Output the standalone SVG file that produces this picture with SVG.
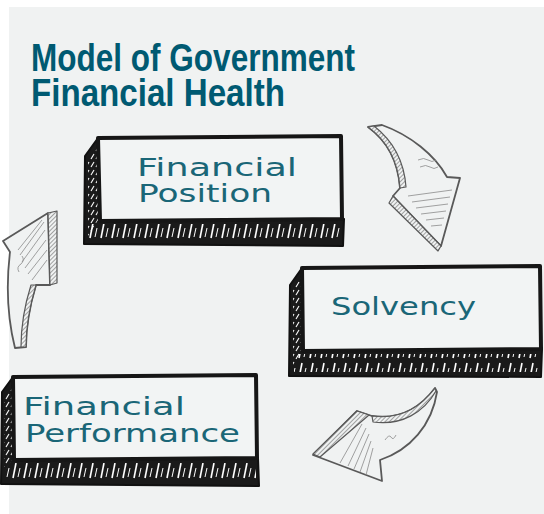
<svg xmlns="http://www.w3.org/2000/svg" width="544" height="514" viewBox="0 0 544 514">
<defs>
<pattern id="sideHatch" width="5" height="8" patternUnits="userSpaceOnUse">
<line x1="1" y1="7" x2="4" y2="2" stroke="#fff" stroke-width="1.1"/>
</pattern>
<pattern id="bottomHatch" width="11" height="20" patternUnits="userSpaceOnUse">
<line x1="2" y1="18" x2="5" y2="3" stroke="#fff" stroke-width="1.6"/>
<line x1="7" y1="17" x2="9" y2="8" stroke="#fff" stroke-width="1"/>
</pattern>
<pattern id="grayHatch" width="3" height="3" patternUnits="userSpaceOnUse" patternTransform="rotate(45)">
<rect width="3" height="3" fill="#f0f2f2"/>
<line x1="0" y1="0" x2="0" y2="3" stroke="#6a6a6a" stroke-width="1.2"/>
</pattern>
</defs>
<style>
.title{font-family:"Liberation Sans",Arial,sans-serif;font-weight:bold;font-size:38px;fill:#005a72}
.label{font-family:"DejaVu Sans","Noto Sans",sans-serif;font-size:25px;fill:#1a6677}
.dark{fill:#1a1a1a;stroke:#111;stroke-width:2;stroke-linejoin:round}
.face{fill:#f2f4f4;stroke:#161616;stroke-width:4;stroke-linejoin:round}
.side{fill:url(#sideHatch)}
.bot{fill:url(#bottomHatch)}
.arr{fill:#f0f2f2;stroke:#595959;stroke-width:1.8;stroke-linejoin:round}
.strip{fill:url(#grayHatch);stroke:#595959;stroke-width:1.2;stroke-linejoin:round}
.fine{fill:none;stroke:#8a8a8a;stroke-width:0.8}
</style>
<rect x="9" y="7" width="535" height="507" fill="#f0f2f2"/>
<g id="title">
<text class="title" x="31" y="71" textLength="324" lengthAdjust="spacingAndGlyphs">Model of Government</text>
<text class="title" x="31" y="106" textLength="254" lengthAdjust="spacingAndGlyphs">Financial Health</text>
</g>
<g id="connectors">
<g id="arrow-position-solvency">
<path class="arr" d="M368,127 L382,125 C410,135 435,155 447,177 L460,178 L441,246 L393,196 L400,188 C398,160 386,140 368,127 Z"/>
<path class="strip" d="M368,127 C386,140 398,160 400,188 L406,187 C404,160 392,140 374,126 Z"/>
<polygon class="strip" points="393,196 441,246 438,251 389,203"/>
<path class="fine" d="M408,196 L452,190 M412,202 L450,197 M416,208 L448,204 M421,214 L446,211 M426,220 L444,218 M431,226 L442,225 M418,160 q6,-3 10,0 q4,3 8,0 M420,167 q6,-3 10,0 q4,3 8,0"/>
</g>
<g id="arrow-solvency-performance">
<path class="arr" d="M435,388 C420,408 400,420 372,416 L357,411 L313,455 L382,481 L380,460 C410,450 432,425 437,392 Z"/>
<path class="strip" d="M435,388 C420,408 400,420 372,416 L373,422 C402,426 424,412 436,391 Z"/>
<polygon class="strip" points="357,411 369,415 320,457 313,454"/>
<path class="fine" d="M366,428 L348,466 M369,434 L354,469 M371,441 L360,472 M373,448 L366,475 M362,424 L340,463 M385,440 q4,-6 6,-3 q2,4 5,-2"/>
</g>
<g id="arrow-performance-position">
<path class="arr" d="M3,241 L48,213 L50,285 L36,285 C30,305 26,325 26,347 L15,348 C8,320 6,285 10,252 Z"/>
<path class="strip" d="M36,285 C30,305 26,325 26,347 L21,347 C21,322 25,304 31,285 Z"/>
<polygon class="strip" points="48,213 57,211 57,283 50,285"/>
<path class="fine" d="M20,255 L44,222 M22,262 L45,230 M25,268 L46,240 M28,274 L47,250 M32,280 L47,260 M18,250 L42,220 M19,272 q-3,-5 2,-8 q4,-4 1,-8"/>
</g>
</g>
<g id="node-financial-position">
<polygon class="dark" points="98,138 85,156 84,244 343,246 344,219"/>
<polygon class="side" points="88,160 97,148 98,220 88,236"/>
<rect class="bot" x="89" y="224" width="251" height="17"/>
<polygon class="face" points="98,138 341,136 342,219 100,221"/>
<text class="label" x="137" y="176" textLength="160" lengthAdjust="spacingAndGlyphs">Financial</text>
<text class="label" x="138" y="202" textLength="134" lengthAdjust="spacingAndGlyphs">Position</text>
</g>
<g id="node-solvency">
<polygon class="dark" points="302,268 290,285 289,376 541,377 542,349"/>
<polygon class="side" points="293,289 301,278 302,350 293,366"/>
<rect class="bot" x="294" y="354" width="245" height="18"/>
<polygon class="face" points="302,268 540,266 541,349 303,351"/>
<text class="label" x="331" y="315" textLength="145" lengthAdjust="spacingAndGlyphs">Solvency</text>
</g>
<g id="node-financial-performance">
<polygon class="dark" points="13,377 2,392 1,484 259,486 258,458"/>
<polygon class="side" points="4,396 12,386 13,458 4,472"/>
<rect class="bot" x="6" y="463" width="250" height="18"/>
<polygon class="face" points="13,377 256,375 257,458 14,460"/>
<text class="label" x="23" y="415" textLength="162" lengthAdjust="spacingAndGlyphs">Financial</text>
<text class="label" x="25" y="442" textLength="215" lengthAdjust="spacingAndGlyphs">Performance</text>
</g>
</svg>
